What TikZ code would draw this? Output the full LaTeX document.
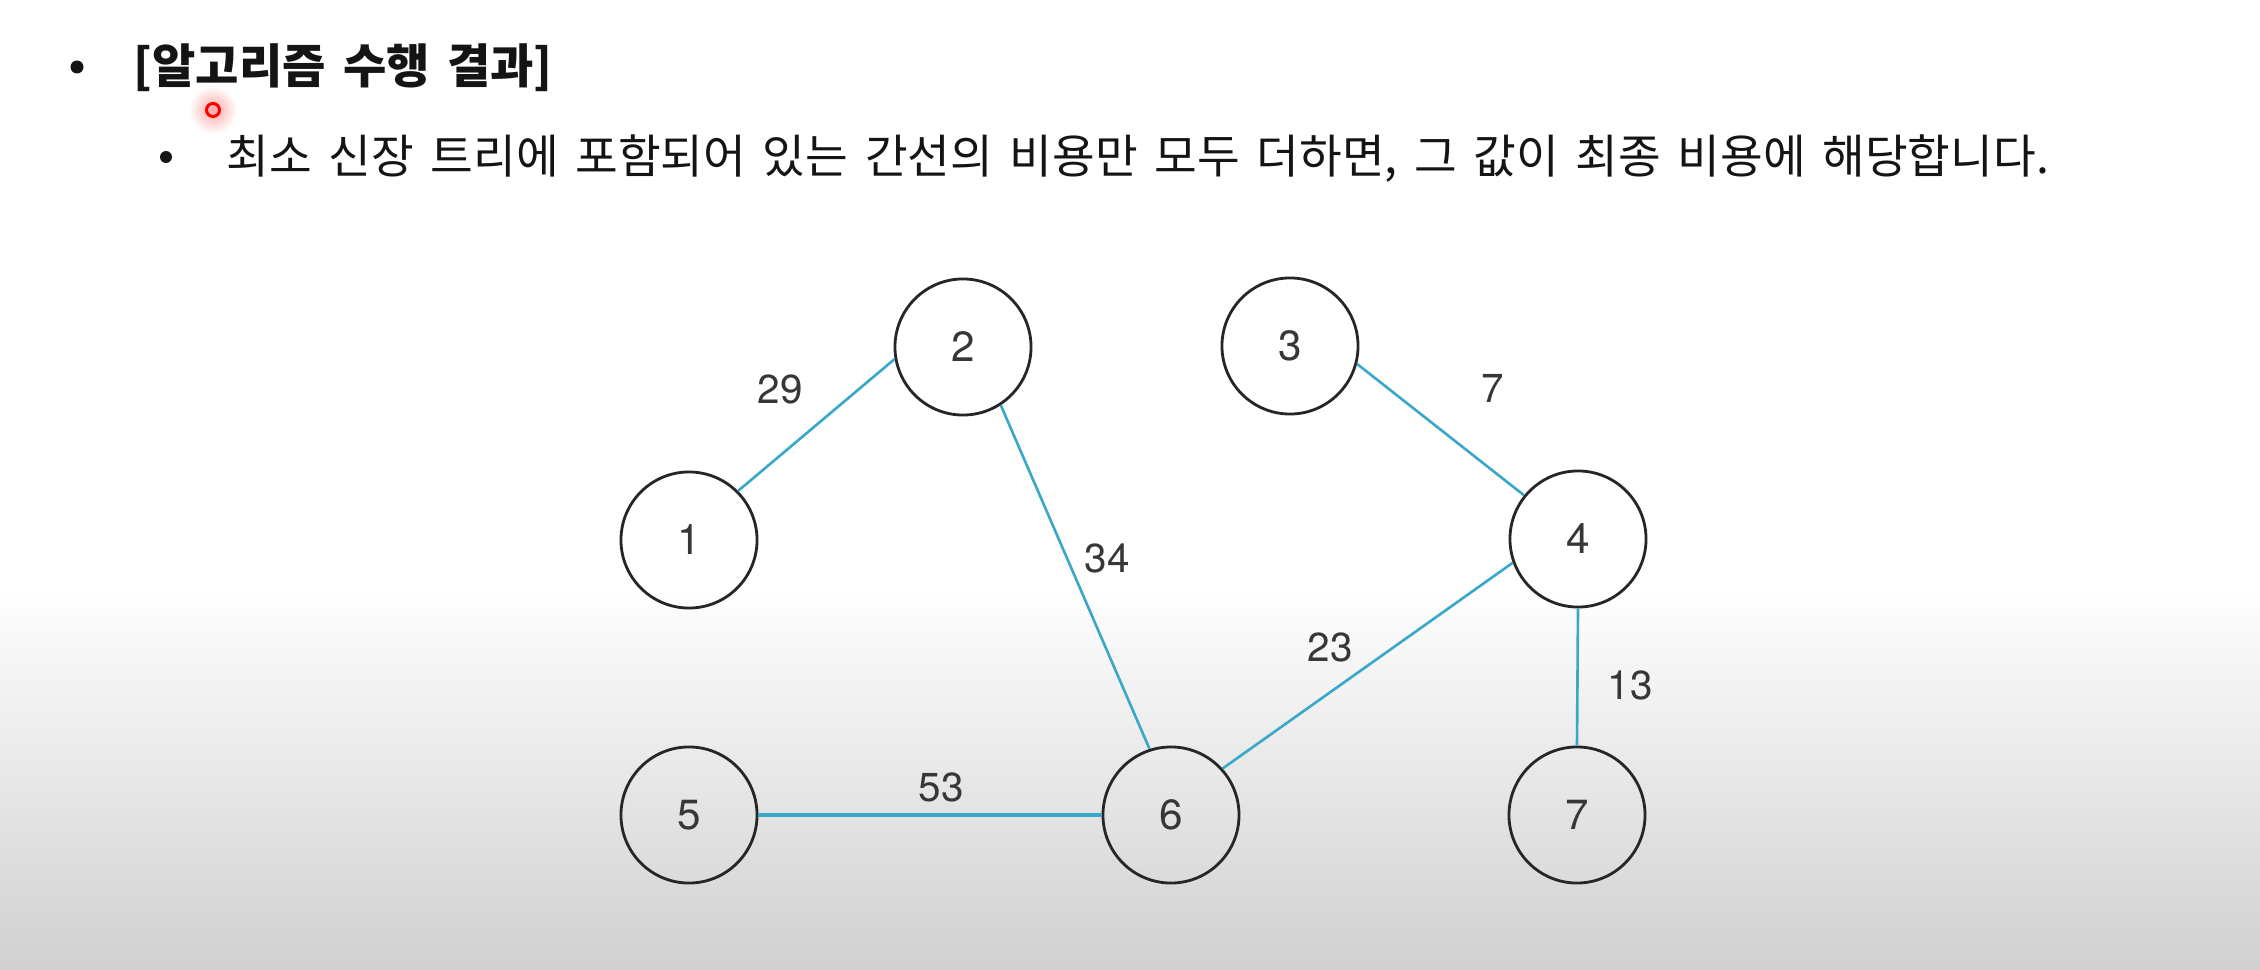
\documentclass[tikz,border=0pt]{standalone}
\usepackage{fontspec}
\setmainfont{TeX Gyre Heros}
\newfontfamily\kr{Noto Sans CJK KR}
\newfontfamily\krwide[WordSpace=1.6]{Noto Sans CJK KR}
\definecolor{edgeblue}{RGB}{58,168,200}
\definecolor{numgray}{RGB}{55,55,55}
\definecolor{bggray}{RGB}{208,208,208}
\definecolor{ink}{RGB}{20,20,20}
\begin{document}
\begin{tikzpicture}[x=0.01cm,y=-0.01cm,
  vert/.style={circle, draw=black!85, line width=0.8pt, minimum size=1.36cm, inner sep=0pt,
    font=\fontsize{12}{12}\selectfont, text=numgray},
  wt/.style={inner sep=0pt, font=\fontsize{11.5}{12}\selectfont, text=numgray},
  mst/.style={draw=edgeblue, line width=0.75pt},
  bullet/.style={fill=ink},
  txt/.style={anchor=west, inner sep=0pt, text=ink}]
\useasboundingbox (0,0) rectangle (2260,970);
\fill[white] (0,0) rectangle (2260,970);
\shade[top color=white, bottom color=bggray] (0,585) rectangle (2260,970);

% header
\fill[bullet] (77,67) circle (6.5);
\node[txt, font=\kr\bfseries\fontsize{13.4}{14}\selectfont] (title) at (133,68) {[알고리즘 수행 결과]};
\fill[bullet] (166,157) circle (6);
\node[txt, font=\krwide\fontsize{13.2}{14}\selectfont] (sub) at (226,159) {최소 신장 트리에 포함되어 있는 간선의 비용만 모두 더하면, 그 값이 최종 비용에 해당합니다.};

% cursor
\shade[inner color=red!35, outer color=white] (213,110) circle (24);
\draw[red, line width=0.85pt] (213,110) circle (6.5);

% vertices
\node[vert] (n1) at (689,540) {1};
\node[vert] (n2) at (963,347) {2};
\node[vert] (n3) at (1290,346) {3};
\node[vert] (n4) at (1578,539) {4};
\node[vert] (n5) at (689,815) {5};
\node[vert] (n6) at (1171,815) {6};
\node[vert] (n7) at (1577,815) {7};

% edges
\draw[mst] (n1.45) -- (n2.190);
\draw[mst] (n2.303) -- (n6.108);
\draw[mst] (n3.-15) -- (n4.141);
\draw[mst] (n4.200) -- (n6.42);
\draw[mst] (n4.south) -- (n7.north);
\draw[mst, line width=1pt] (n5.east) -- (n6.west);

% weights
\node[wt] (w12) at (780,389) {29};
\node[wt] (w34) at (1493,388) {7};
\node[wt] (w26) at (1107,558) {34};
\node[wt] (w46) at (1330,647) {23};
\node[wt] (w47) at (1630,685) {13};
\node[wt] (w56) at (941,787) {53};
\end{tikzpicture}
\end{document}
